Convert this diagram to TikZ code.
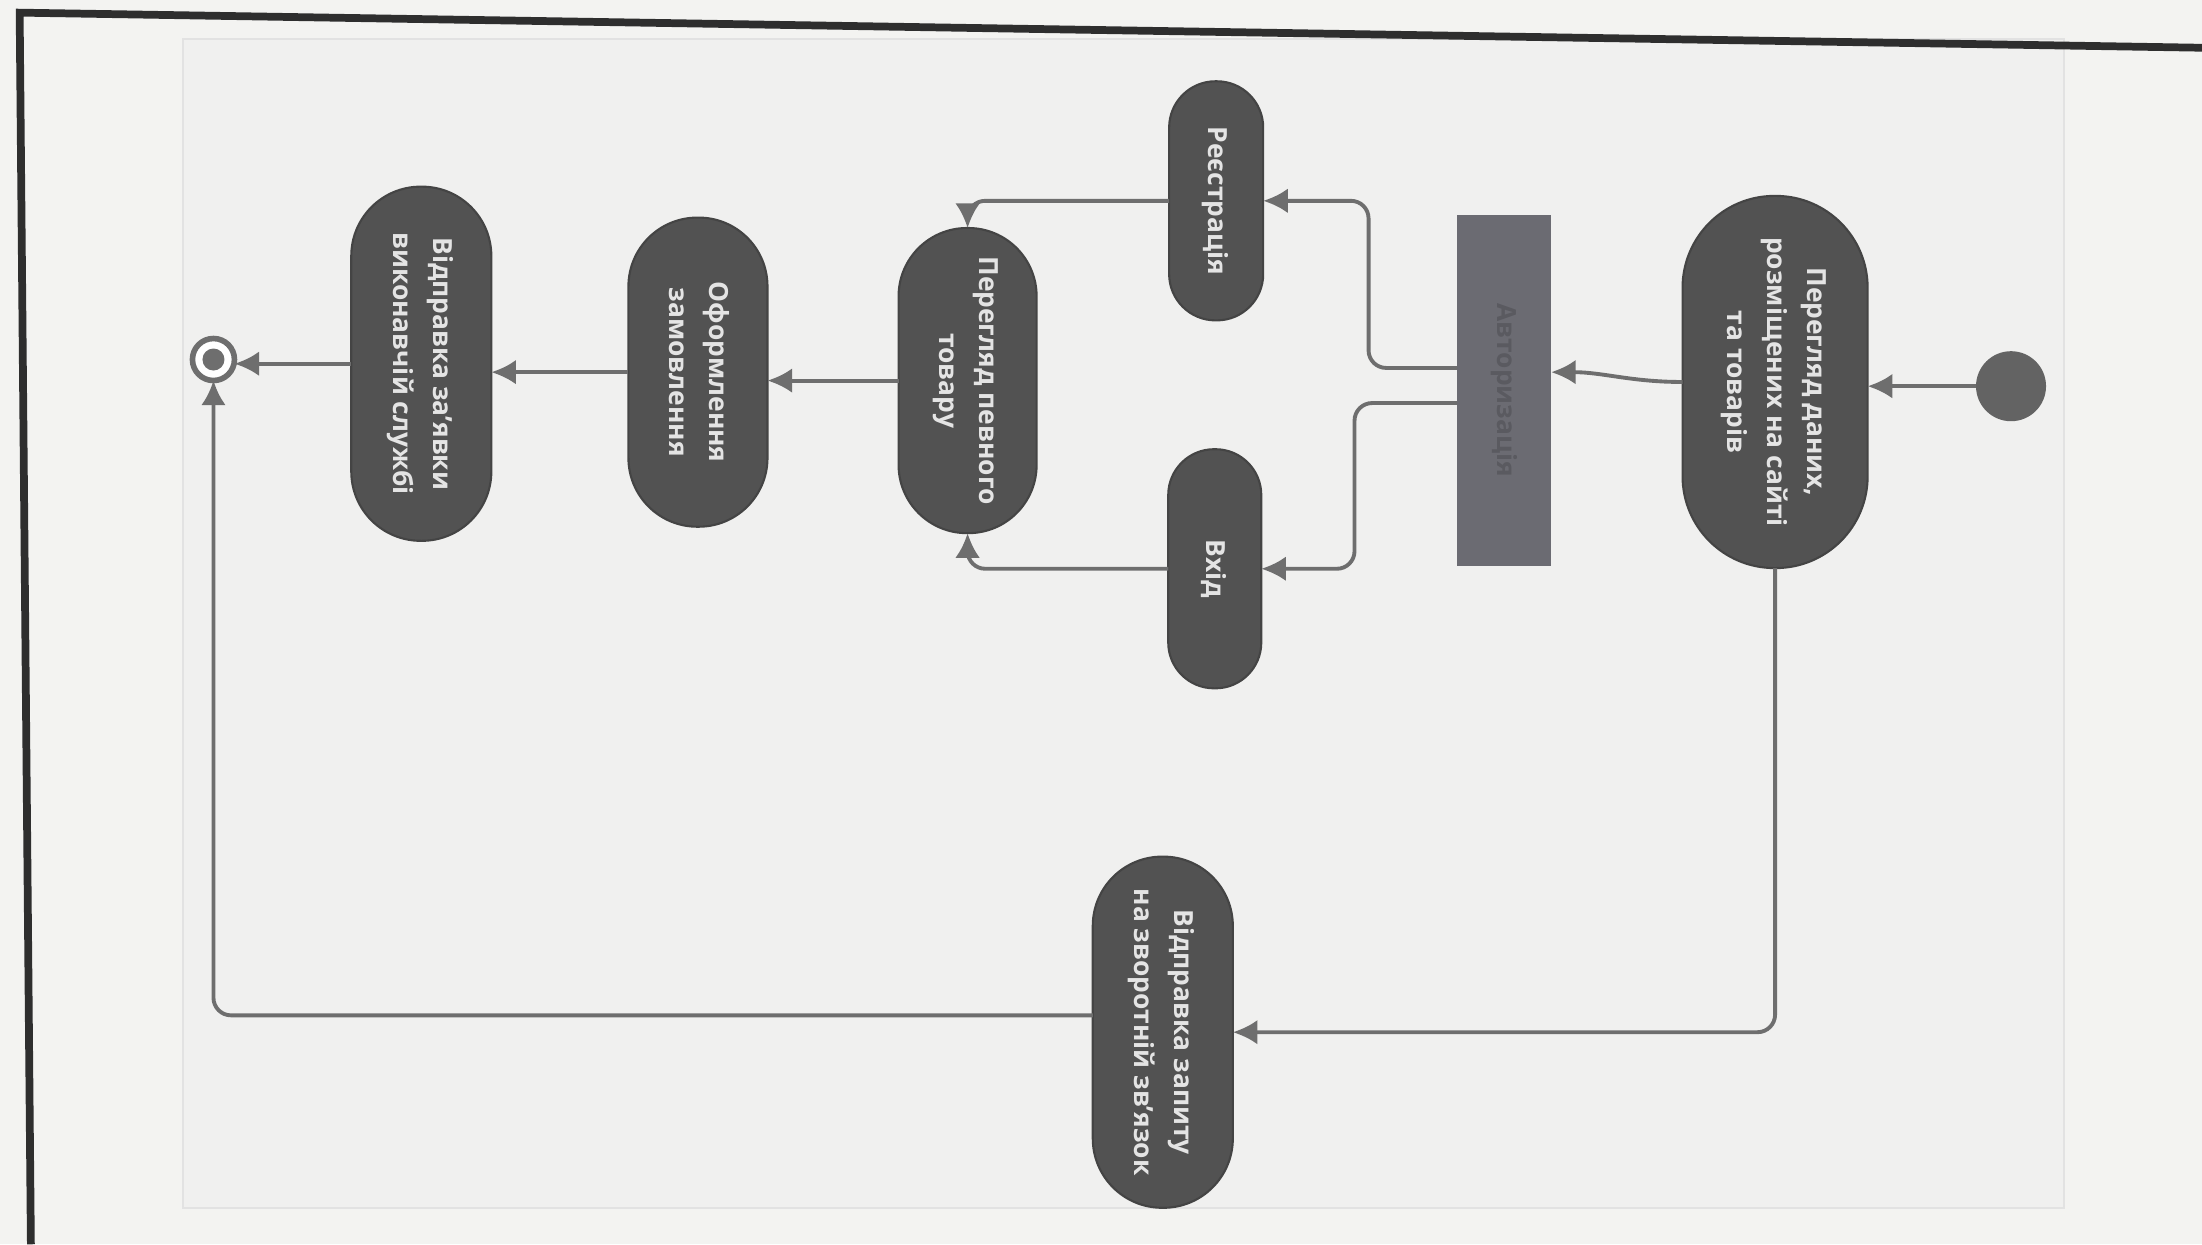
\documentclass[tikz,border=0pt]{standalone}
\usepackage{fontspec}
\setmainfont{Open Sans}
\usepackage{graphicx}
\usetikzlibrary{arrows.meta,calc}

\definecolor{paper}{HTML}{F3F3F1}
\definecolor{sheet}{HTML}{F0F0EF}
\definecolor{sheetedge}{HTML}{E2E2E2}
\definecolor{actfill}{HTML}{525252}
\definecolor{actedge}{HTML}{444444}
\definecolor{acttext}{HTML}{E4E4E4}
\definecolor{barfill}{HTML}{6B6B72}
\definecolor{bartext}{HTML}{5A5A60}
\definecolor{flowcol}{HTML}{6E6E6E}
\definecolor{frame}{HTML}{2E2E2E}

\newcommand{\acttxt}[1]{\rotatebox{-90}{\fontsize{7.5}{11.4}\selectfont\bfseries
  \begin{tabular}{@{}c@{}}#1\end{tabular}}}

\tikzset{
  activity/.style n args={2}{rectangle, rounded corners=#1/2-0.2pt,
    minimum width=#1, minimum height=#2, inner sep=0pt, outer sep=0pt,
    fill=actfill, draw=actedge, line width=0.6pt, text=acttext},
  forkbar/.style={rectangle, minimum width=0.94cm, minimum height=3.51cm,
    inner sep=0pt, outer sep=0pt, fill=barfill, text=bartext},
  startdot/.style={circle, minimum size=0.70cm, inner sep=0pt, outer sep=0pt,
    fill=flowcol!90!black},
  enddot/.style={circle, minimum size=0.42cm, inner sep=0pt, outer sep=0pt,
    draw=flowcol, line width=1.6pt, fill=white,
    path picture={\fill[flowcol] (path picture bounding box.center) circle (0.11cm);}},
  flow/.style={draw=flowcol, line width=1.1pt, rounded corners=5pt,
    -{Latex[length=7pt,width=7pt]}},
}

\begin{document}
\begin{tikzpicture}[x=0.01404cm, y=-0.01404cm]
  % paper and frame
  \fill[paper] (0,0) rectangle (1568,886);
  \useasboundingbox (0,0) rectangle (1568,886);
  \fill[sheet] (130,28) rectangle (1470,860);
  \draw[sheetedge, line width=0.6pt] (130,28) rectangle (1470,860);
  \draw[frame, line width=2.2pt] (1568,34) -- (14,9) -- (22,886);

  % activities
  \node[startdot] (start) at (1432,275) {};
  \node[activity={1.85cm}{3.72cm}] (browse) at (1264,272)
    {\acttxt{Перегляд даних,\\розміщених на сайті\\та товарів}};
  \node[forkbar] (auth) at (1071,278)
    {\rotatebox{-90}{\fontsize{7.5}{9}\selectfont\bfseries Авторизація}};
  \node[activity={0.94cm}{2.39cm}] (signup) at (866,143)
    {\acttxt{Реєстрація}};
  \node[activity={0.93cm}{2.39cm}] (login) at (865,405)
    {\acttxt{Вхід}};
  \node[activity={1.38cm}{3.05cm}] (item) at (689,271)
    {\acttxt{Перегляд певного\\товару}};
  \node[activity={1.39cm}{3.09cm}] (order) at (497,265)
    {\acttxt{Оформлення\\замовлення}};
  \node[activity={1.40cm}{3.54cm}] (request) at (300,259)
    {\acttxt{Відправка за’явки\\виконавчій службі}};
  \node[activity={1.40cm}{3.51cm}] (feedback) at (828,735)
    {\acttxt{Відправка запиту\\на зворотній зв’язок}};
  \node[enddot] (finish) at (152,256) {};

  % control flows
  \draw[flow] (start.west) -- (start.west -| browse.east);
  \draw[flow] (browse.west) to[out=180, in=0] ($(auth.east)+(0,-13)$);
  \draw[flow] ($(auth.west)+(0,-16)$) -- ++(-63,0) |- (signup.east);
  \draw[flow] ($(auth.west)+(0,9)$) -- ++(-73,0) |- (login.east);
  \draw[flow] (signup.west) -| (item.north);
  \draw[flow] (login.west) -| (item.south);
  \draw[flow] (item.west) -- (item.west -| order.east);
  \draw[flow] (order.west) -- (order.west -| request.east);
  \draw[flow] (request.west) -- (request.west -| finish.east);
  \draw[flow] (browse.south) |- (feedback.east);
  \draw[flow] ($(feedback.west)+(0,-12)$) -| (finish.south);
\end{tikzpicture}
\end{document}
